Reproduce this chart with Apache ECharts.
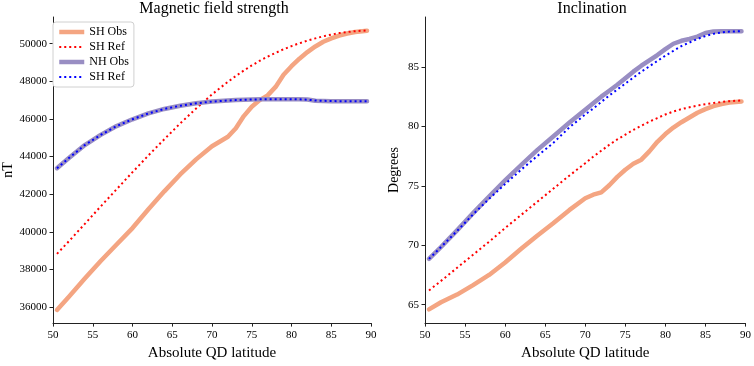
<!DOCTYPE html>
<html>
<head>
<meta charset="utf-8">
<script src="https://cdn.jsdelivr.net/npm/echarts@6/dist/echarts.min.js"></script>
<style>
  html, body { margin: 0; padding: 0; background: #fff; }
  #chart { width: 754px; height: 366px; }
</style>
</head>
<body>
<div id="chart"></div>
<script>
// absolute QD latitude (deg)
var lat = [50.5, 52, 54, 56, 58, 60, 62, 64, 66, 68, 70, 71, 72, 73, 74, 75, 76, 77, 78, 79, 80, 81, 82, 83, 84, 85, 86, 87, 88, 89.5];

// field strength, nT
var shObsF = [35850, 36550, 37520, 38450, 39330, 40200, 41200, 42150, 43050, 43850, 44550, 44800, 45050, 45500, 46150, 46650, 47000, 47250, 47700, 48350, 48800, 49200, 49550, 49850, 50100, 50280, 50430, 50540, 50620, 50680];
var shRefF = [38830, 39500, 40420, 41350, 42260, 43170, 44060, 44920, 45760, 46550, 47300, 47640, 47970, 48280, 48570, 48840, 49090, 49310, 49510, 49700, 49870, 50020, 50160, 50280, 50390, 50480, 50560, 50620, 50660, 50700];
var nhObsF = [43380, 43920, 44610, 45150, 45620, 45980, 46290, 46530, 46700, 46830, 46920, 46950, 46980, 47000, 47020, 47030, 47040, 47050, 47050, 47050, 47050, 47050, 47030, 46960, 46950, 46940, 46940, 46940, 46940, 46940];
var nhRefF = [43380, 43920, 44610, 45150, 45620, 45980, 46290, 46530, 46700, 46830, 46920, 46950, 46980, 47000, 47020, 47030, 47040, 47050, 47050, 47050, 47050, 47040, 47020, 46980, 46960, 46950, 46940, 46940, 46940, 46940];

// inclination, degrees
var shObsI = [64.6, 65.2, 65.85, 66.65, 67.5, 68.55, 69.7, 70.8, 71.85, 72.95, 73.95, 74.25, 74.45, 75.05, 75.75, 76.35, 76.85, 77.2, 77.9, 78.7, 79.35, 79.9, 80.35, 80.75, 81.15, 81.45, 81.7, 81.88, 82.0, 82.1];
var shRefI = [66.2, 67.0, 68.1, 69.2, 70.3, 71.45, 72.55, 73.65, 74.75, 75.85, 76.9, 77.45, 77.95, 78.45, 78.9, 79.3, 79.7, 80.05, 80.4, 80.7, 81.0, 81.25, 81.45, 81.6, 81.75, 81.87, 81.97, 82.05, 82.12, 82.18];
var nhObsI = [68.85, 69.85, 71.25, 72.7, 74.1, 75.45, 76.75, 78.0, 79.15, 80.3, 81.4, 81.95, 82.5, 83.0, 83.5, 84.05, 84.6, 85.1, 85.55, 86.0, 86.5, 86.95, 87.2, 87.35, 87.55, 87.85, 87.98, 88.0, 88.0, 88.0];
var nhRefI = [68.85, 69.85, 71.2, 72.6, 73.9, 75.15, 76.35, 77.5, 78.6, 79.9, 81.0, 81.5, 82.05, 82.6, 83.1, 83.6, 84.1, 84.6, 85.05, 85.5, 85.95, 86.35, 86.75, 87.05, 87.35, 87.6, 87.78, 87.9, 87.97, 88.0];

// tick labels
var xTicks = [50, 55, 60, 65, 70, 75, 80, 85, 90];
var fTicks = [36000, 38000, 40000, 42000, 44000, 46000, 48000, 50000];
var iTicks = [65, 70, 75, 80, 85];

var names = ['SH Obs', 'SH Ref', 'NH Obs', 'SH Ref '];
var colors = ['#f4a582', '#ff0000', '#998ec3', '#0000ff'];
var widths = [4.5, 2, 4.5, 2];
var dotted = [false, true, false, true];

var FONT = 'Liberation Serif';
var myChart = echarts.init(document.getElementById('chart'));

function pairs(ys) {
    return lat.map(function (x, i) { return [x, ys[i]]; });
}

function xAxisFor(idx) {
    return {
        type: 'value', gridIndex: idx,
        min: 50, max: 90, interval: 5,
        name: 'Absolute QD latitude',
        nameLocation: 'middle', nameGap: 21,
        nameTextStyle: { fontFamily: FONT, fontSize: 15, color: '#000' },
        axisLine: { show: true, lineStyle: { color: '#222', width: 1 } },
        axisTick: { show: true, inside: false, length: 3.5, lineStyle: { color: '#222' } },
        axisLabel: { fontFamily: FONT, fontSize: 11, color: '#000', margin: 7,
                     formatter: function (v) { return String(v); } },
        splitLine: { show: false }
    };
}

function yAxisFor(idx, name, min, max, ticks, gap) {
    return {
        type: 'value', gridIndex: idx,
        min: min, max: max,
        name: name, nameLocation: 'middle', nameGap: gap, nameRotate: 90,
        nameTextStyle: { fontFamily: FONT, fontSize: 14, color: '#000' },
        axisLine: { show: true, lineStyle: { color: '#222', width: 1 } },
        axisTick: { show: true, length: 3.5, customValues: ticks, lineStyle: { color: '#222' } },
        axisLabel: { fontFamily: FONT, fontSize: 11, color: '#000', margin: 6, customValues: ticks,
                     formatter: function (v) { return String(v); } },
        splitLine: { show: false }
    };
}

function dash(i) {
    return dotted[i] ? [2, 3] : 'solid';
}

function lineSeries(i, idx, ys) {
    return {
        name: names[i], type: 'line',
        xAxisIndex: idx, yAxisIndex: idx,
        data: pairs(ys),
        symbol: 'none', smooth: false,
        lineStyle: {
            color: colors[i], width: widths[i], type: dash(i),
            cap: dotted[i] ? 'butt' : 'round', join: 'round'
        },
        itemStyle: { color: colors[i] },
        emphasis: { disabled: true },
        animation: false
    };
}

var option = {
    backgroundColor: '#fff',
    animation: false,
    title: [
        { text: 'Magnetic field strength', left: 209, top: -4, textAlign: 'center',
          textStyle: { fontFamily: FONT, fontSize: 16, fontWeight: 'normal', color: '#000' } },
        { text: 'Inclination', left: 587, top: -4, textAlign: 'center',
          textStyle: { fontFamily: FONT, fontSize: 16, fontWeight: 'normal', color: '#000' } }
    ],
    legend: {
        data: names.map(function (n, i) {
            return { name: n, lineStyle: { width: widths[i], type: dash(i), color: colors[i], cap: 'butt' } };
        }),
        orient: 'vertical',
        left: 53, top: 22,
        itemWidth: 25, itemHeight: 8, itemGap: 3,
        padding: [4, 5, 4, 4],
        backgroundColor: '#fff',
        borderColor: '#d0d0d0', borderWidth: 1, borderRadius: 3,
        itemStyle: { opacity: 0 },
        textStyle: { fontFamily: FONT, fontSize: 12, color: '#000' },
        selectedMode: false
    },
    grid: [
        { left: 48, top: 17, width: 323, bottom: 35 },
        { left: 425, top: 17, width: 324, bottom: 35 }
    ],
    xAxis: [xAxisFor(0), xAxisFor(1)],
    yAxis: [
        yAxisFor(0, 'nT', 35150, 51415, fTicks, 38),
        yAxisFor(1, 'Degrees', 63.45, 89.2, iTicks, 24)
    ],
    series: [
        lineSeries(0, 0, shObsF),
        lineSeries(1, 0, shRefF),
        lineSeries(2, 0, nhObsF),
        lineSeries(3, 0, nhRefF),
        lineSeries(0, 1, shObsI),
        lineSeries(1, 1, shRefI),
        lineSeries(2, 1, nhObsI),
        lineSeries(3, 1, nhRefI)
    ]
};

myChart.setOption(option);
</script>
</body>
</html>
